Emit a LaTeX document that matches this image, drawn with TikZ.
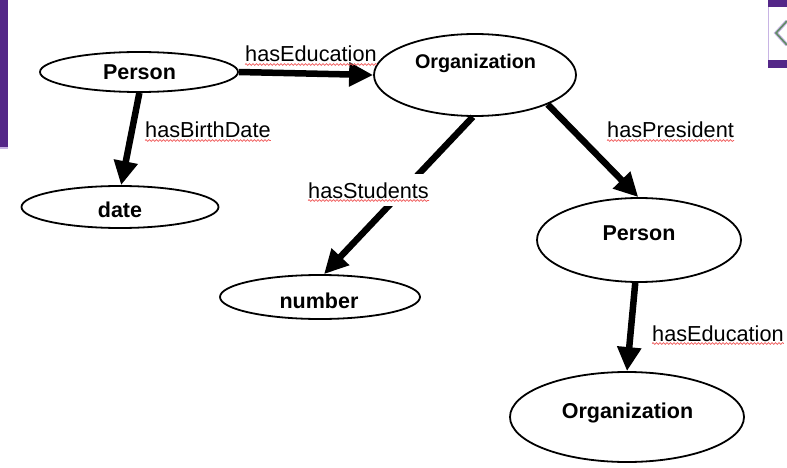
\documentclass[tikz,border=0pt]{standalone}
\usepackage{fontspec}
\setmainfont{Liberation Sans}
\usetikzlibrary{shapes.geometric,arrows.meta,decorations.pathmorphing}
\definecolor{barpurple}{RGB}{84,39,136}
\definecolor{lavender}{RGB}{200,180,228}
\definecolor{chevgreen}{RGB}{96,140,100}
\definecolor{squigred}{RGB}{240,90,90}
\tikzset{
  ell/.style={ellipse, draw=black, line width=1.8pt, inner sep=0pt},
  nodetext/.style={font=\fontsize{21.5}{24}\selectfont\bfseries, anchor=base, inner sep=0pt},
  edgelabel/.style={font=\fontsize{21.7}{24}\selectfont, anchor=base west, inner sep=0pt},
  rel/.style={line width=6.5pt, -{Triangle[length=24pt,width=23pt]}},
  squiggle/.style={draw=squigred, line width=0.7pt,
    decorate, decoration={snake, amplitude=0.9pt, segment length=3.5pt}}
}
\begin{document}
\begin{tikzpicture}[x=1pt, y=-1pt]
\useasboundingbox (0,0) rectangle (787,468);

% side bar and corner tab
\fill[barpurple] (0,0) rectangle (8,147);
\fill[lavender] (0,147) rectangle (8,149);
\fill[barpurple] (768,0) rectangle (787,7);
\fill[barpurple] (768,60) rectangle (787,68);
\draw[lavender, line width=1pt] (768.5,7) -- (768.5,60);
\draw[lavender, line width=3.5pt] (787,21) -- (776,33) -- (787,45);
\draw[chevgreen, line width=1.6pt] (787,21) -- (776,33) -- (787,45);

% ellipses
\node[ell, minimum width=198pt, minimum height=40pt] (p1) at (139,72) {};
\node[ell, minimum width=202pt, minimum height=82pt] (o1) at (475,75) {};
\node[ell, minimum width=197pt, minimum height=42pt] (dt) at (120,207) {};
\node[ell, minimum width=200pt, minimum height=44pt] (num) at (320,297) {};
\node[ell, minimum width=204pt, minimum height=84pt] (p2) at (639,240) {};
\node[ell, minimum width=234pt, minimum height=90pt] (o2) at (627,417) {};

% texts inside the ellipses
\node[nodetext] (p1t) at (139.5,80) {Person};
\node[nodetext, font=\fontsize{19.8}{22}\selectfont\bfseries] (o1t) at (475.5,69) {Organization};
\node[nodetext] (dtt) at (120,217) {date};
\node[nodetext] (numt) at (319,308) {number};
\node[nodetext] (p2t) at (639,240) {Person};
\node[nodetext] (o2t) at (627.5,418) {Organization};

% relations
\draw[rel] (p1.0) -- (o1.180);
\draw[rel] (p1.-89) -- (dt.87);
\draw[rel] (o1.-93) -- (num.80);
\draw[rel] (o1.-22) -- (p2.91);
\draw[rel] (p2.-95) -- (o2.90);

% relation labels
\node[edgelabel] (l1) at (245,62) {hasEducation};
\node[edgelabel] (l2) at (145,138) {hasBirthDate};
\node[edgelabel, fill=white, inner xsep=2pt, inner ysep=8pt] (l3) at (306,198) {hasStudents};
\node[edgelabel] (l4) at (607,138) {hasPresident};
\node[edgelabel] (l5) at (652,341) {hasEducation};

% spell-check underlines
\draw[squiggle] ([yshift=-2.5pt]l1.base west) -- ([yshift=-2.5pt]l1.base east);
\draw[squiggle] ([yshift=-2.5pt]l2.base west) -- ([yshift=-2.5pt]l2.base east);
\draw[squiggle] ([xshift=2pt,yshift=-2.5pt]l3.base west) -- ([xshift=-2pt,yshift=-2.5pt]l3.base east);
\draw[squiggle] ([yshift=-2.5pt]l4.base west) -- ([yshift=-2.5pt]l4.base east);
\draw[squiggle] ([yshift=-2.5pt]l5.base west) -- ([yshift=-2.5pt]l5.base east);
\end{tikzpicture}
\end{document}
